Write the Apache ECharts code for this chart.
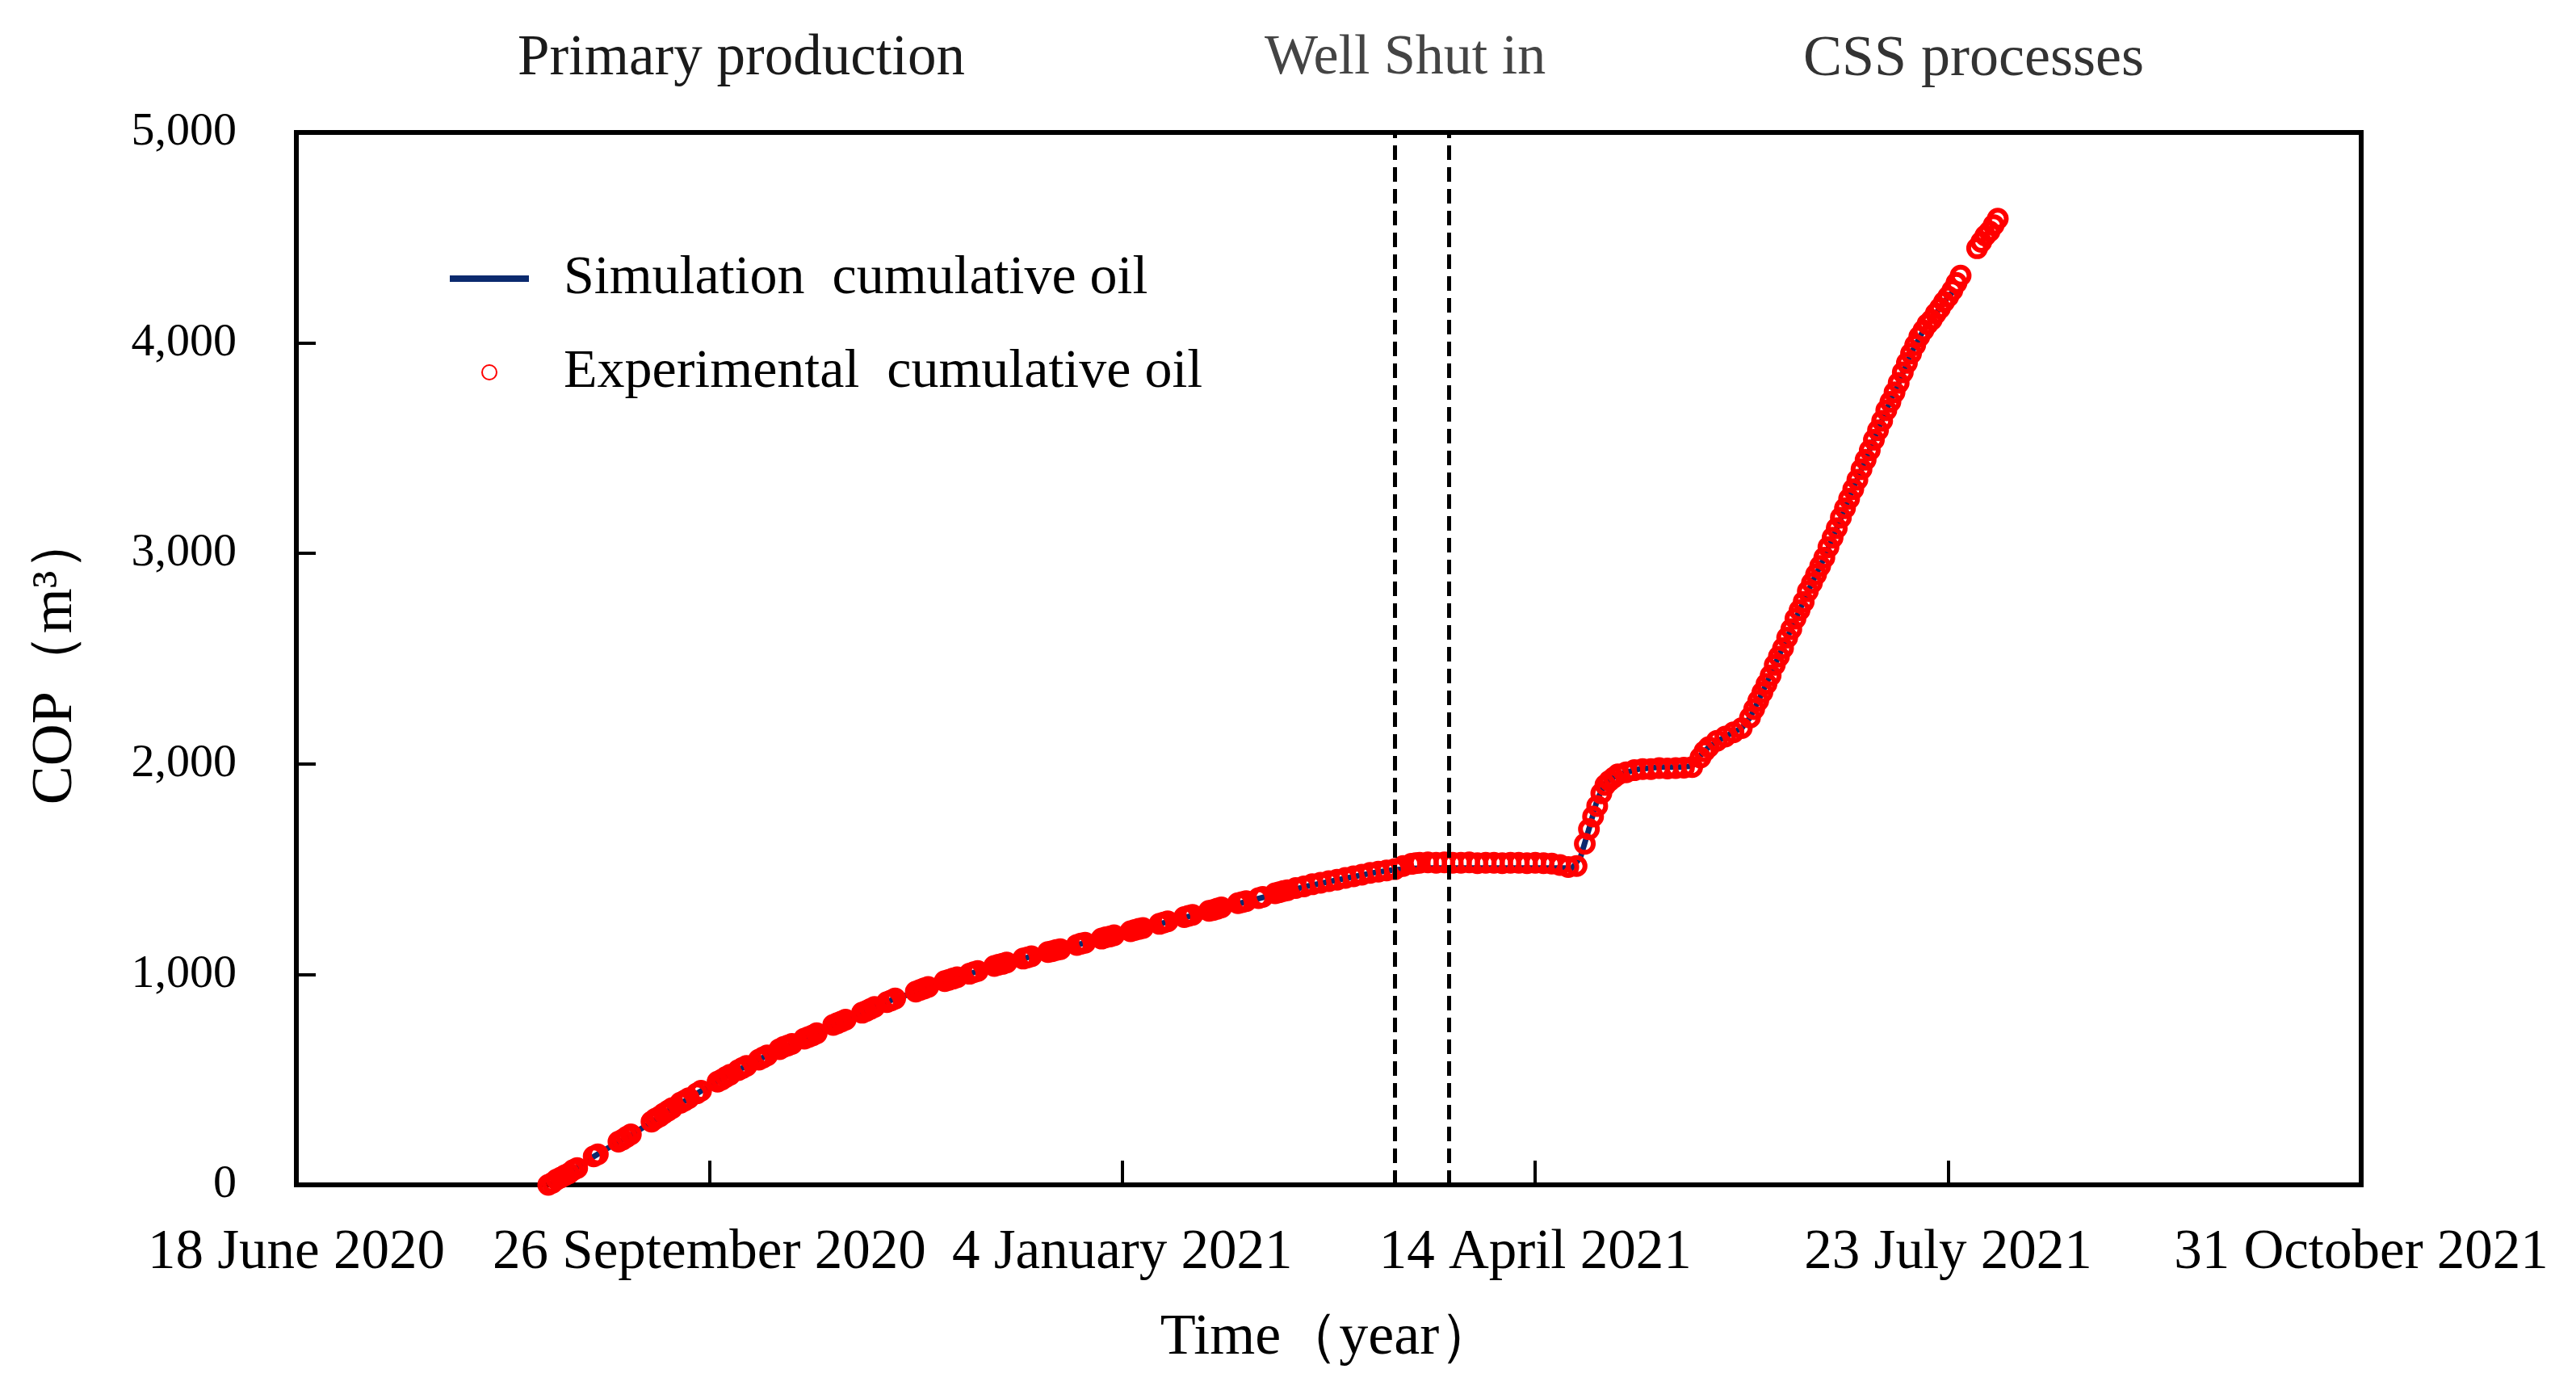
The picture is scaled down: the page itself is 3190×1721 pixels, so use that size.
<!DOCTYPE html>
<html>
<head>
<meta charset="utf-8">
<script src="https://cdn.jsdelivr.net/npm/echarts@6/dist/echarts.min.js"></script>
<style>
html,body{margin:0;padding:0;background:#fff;}
#chart{width:3190px;height:1721px;}
</style>
</head>
<body>
<div id="chart"></div>
<script>
// x values: days since 18 June 2020 (axis ticks every 100 days)
var xTickLabels = ['18 June 2020','26 September 2020','4 January 2021','14 April 2021','23 July 2021','31 October 2021'];
var yTicks = [0,1000,2000,3000,4000,5000];
var phaseLabels = ['Primary production','Well Shut in','CSS processes'];
var shutInDays = [266, 279];

var simPoints = [
[61,0],[65,40],[70,110],[75,170],[80,225],[85,285],[90,350],[95,410],[100,470],
[105,525],[110,575],[115,625],[120,670],[125,710],[130,760],[135,800],[140,845],[145,885],[150,915],
[155,950],[160,985],[165,1015],[170,1045],[175,1070],[180,1095],[185,1120],[190,1145],[195,1170],[200,1195],
[205,1220],[210,1245],[215,1270],[220,1295],[225,1320],[230,1345],[235,1370],[240,1395],[245,1420],[250,1440],
[255,1460],[260,1480],[265,1495],[270,1503],[275,1505],[280,1505],[290,1505],[300,1505],
[309,1505],[311,1560],[313,1690],[315,1830],[317,1910],[320,1950],[325,1975],[330,1985],[335,1985],[338,1990],
[340,2040],[342,2080],[346,2130],[350,2170],[352,2220],[355,2340],[358,2470],[361,2600],[364,2730],[367,2860],
[370,2980],[373,3120],[376,3260],[379,3400],[382,3540],[385,3680],[388,3810],[391,3950],[394,4060],[397,4140],
[400,4220],[401,4240]
];

var expPoints = [
[61,0],[62,10],[63,25],[64,35],[65,45],[66,55],[67,70],[68,80],[72,135],[73,145],
[78,205],[79,215],[80,228],[81,240],[86,300],[87,315],[88,325],[89,340],[90,352],[91,365],
[93,390],[94,400],[95,412],[97,435],[98,447],[102,490],[103,500],[104,512],[105,523],[107,545],
[108,555],[109,565],[112,595],[113,605],[114,615],[117,645],[118,655],[119,662],[120,670],[123,695],
[124,702],[125,710],[126,720],[130,760],[131,768],[132,776],[133,785],[137,818],[138,826],[139,836],
[140,845],[143,868],[144,876],[145,885],[150,918],[151,926],[152,933],[153,940],[157,968],[158,974],
[159,980],[160,986],[163,1003],[164,1010],[165,1016],[169,1040],[170,1046],[171,1050],[172,1056],[176,1075],
[177,1080],[178,1086],[182,1106],[183,1110],[184,1116],[185,1120],[189,1140],[190,1146],[191,1150],[195,1170],
[196,1176],[197,1180],[198,1186],[202,1205],[203,1211],[204,1216],[205,1220],[209,1240],[210,1246],[211,1252],
[215,1272],[216,1278],[217,1283],[221,1302],[222,1306],[223,1312],[224,1318],[228,1338],[229,1343],[230,1348],
[233,1362],[234,1368],[237,1385],[238,1390],[239,1396],[240,1400],[242,1410],[244,1418],[246,1428],[248,1435],
[250,1443],[252,1450],[254,1458],[256,1466],[258,1474],[260,1482],[262,1488],[264,1494],[266,1500],
[268,1515],[270,1525],[271,1528],[272,1530],[274,1532],[276,1530],[278,1532],[280,1530],[282,1530],[284,1532],
[286,1528],[288,1530],[290,1530],[292,1528],[294,1530],[296,1530],[298,1528],[300,1530],[302,1528],[304,1526],
[306,1520],[308,1510],[310,1515],
[312,1620],[313,1690],[314,1750],[315,1800],[316,1860],[317,1900],[318,1920],[319,1935],[320,1950],[322,1960],
[324,1970],[326,1975],[328,1975],[330,1980],[332,1978],[334,1980],[336,1982],[338,1985],[340,2030],[341,2060],
[342,2080],[344,2110],[346,2130],[348,2150],[350,2170],[352,2220],[353,2260],[354,2300],[355,2340],[356,2380],
[357,2420],[358,2470],[359,2510],[360,2550],[361,2600],[362,2640],[363,2690],[364,2730],[365,2770],[366,2820],
[367,2860],[368,2900],[369,2940],[370,2980],[371,3030],[372,3075],[373,3120],[374,3170],[375,3215],[376,3260],
[377,3305],[378,3350],[379,3400],[380,3445],[381,3490],[382,3540],[383,3585],[384,3630],[385,3680],[386,3720],
[387,3765],[388,3810],[389,3860],[390,3905],[391,3950],[392,3990],[393,4030],[394,4060],[395,4090],[396,4110],
[397,4140],[398,4165],[399,4195],[400,4220],[401,4250],[402,4285],[403,4320],
[407,4450],[408,4480],[409,4510],[410,4530],[411,4560],[412,4590]
];

var FONT = "'Liberation Serif','Times New Roman',serif";
var chart = echarts.init(document.getElementById('chart'), null, {renderer:'canvas'});

var option = {
  backgroundColor: '#ffffff',
  animation: false,
  grid: {
    left: 367, right: 266, top: 164, bottom: 254,
    show: true, borderColor: '#000', borderWidth: 6, backgroundColor: 'transparent'
  },
  graphic: [
    {type:'text', left: 641, top: 38, style:{text: phaseLabels[0], font: "71px " + FONT, fill:'#1a1a1a'}},
    {type:'text', left: 1566, top: 38, style:{text: phaseLabels[1], font: "70px " + FONT, fill:'#444'}},
    {type:'text', left: 2233, top: 38, style:{text: phaseLabels[2], font: "72px " + FONT, fill:'#333'}}
  ],
  legend: {
    orient: 'vertical',
    left: 557, top: 310,
    itemWidth: 98, itemHeight: 18, itemGap: 46,
    padding: 0,
    textStyle: {fontFamily: FONT, fontSize: 68, color: '#000', lineHeight: 70, padding: [0,0,0,38]},
    data: [
      {name: 'Simulation  cumulative oil', icon: 'path://M0,0H100V8H0Z', itemStyle: {color: '#0b2a6e'}},
      {name: 'Experimental  cumulative oil'}
    ]
  },
  xAxis: {
    type: 'value', min: 0, max: 500, interval: 100,
    name: 'Time（year）', nameLocation: 'middle', nameGap: 154,
    nameTextStyle: {fontFamily: FONT, fontSize: 72, color: '#000'},
    axisLine: {show: true, onZero: false, lineStyle: {color: '#000', width: 6}},
    axisTick: {show: true, inside: true, length: 30, lineStyle: {color: '#000', width: 4}},
    axisLabel: {fontFamily: FONT, fontSize: 69, color: '#000', margin: 50,
      formatter: function(v){ return xTickLabels[Math.round(v/100)] || ''; }},
    splitLine: {show: false}
  },
  yAxis: {
    type: 'value', min: yTicks[0], max: yTicks[yTicks.length-1], interval: 1000,
    name: 'COP（m³）', nameLocation: 'middle', nameGap: 262, nameRotate: 90,
    nameTextStyle: {fontFamily: FONT, fontSize: 72, color: '#000'},
    axisLine: {show: true, lineStyle: {color: '#000', width: 6}},
    axisTick: {show: true, inside: true, length: 24, lineStyle: {color: '#000', width: 4}},
    axisLabel: {fontFamily: FONT, fontSize: 58, color: '#000', margin: 74,
      formatter: function(v){ return v.toLocaleString('en-US'); }},
    splitLine: {show: false}
  },
  series: [
    {
      name: 'Simulation  cumulative oil',
      type: 'line',
      data: simPoints,
      showSymbol: false,
      symbol: 'none',
      lineStyle: {color: '#0b2a6e', width: 7},
      itemStyle: {color: '#0b2a6e'},
      markLine: {
        silent: true,
        symbol: ['none','none'],
        label: {show: false},
        lineStyle: {color: '#000', width: 5, type: [18, 9]},
        data: shutInDays.map(function(d){ return {xAxis: d}; })
      },
      z: 2
    },
    {
      name: 'Experimental  cumulative oil',
      type: 'scatter',
      data: expPoints,
      symbol: 'circle',
      symbolSize: 21,
      itemStyle: {color: 'rgba(255,255,255,0)', borderColor: '#ff0000', borderWidth: 6, opacity: 1},
      z: 3
    }
  ]
};
chart.setOption(option);
</script>
</body>
</html>
